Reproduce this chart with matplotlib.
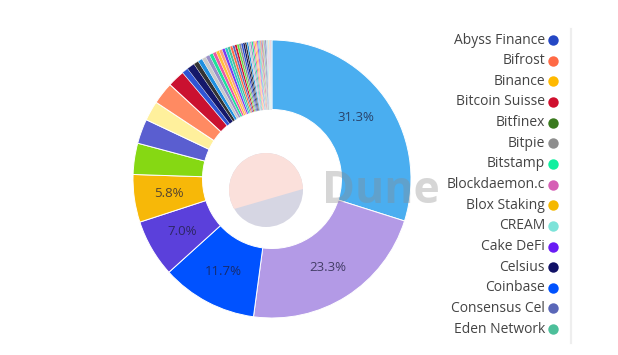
import numpy as np
import matplotlib.pyplot as plt
from matplotlib.patches import Circle, Polygon

# --- datos ---
# porciones del donut (en el orden del reloj desde arriba)
big_shares = [31.3, 23.3, 11.7, 7.0, 5.8]
big_labels = ['31.3%', '23.3%', '11.7%', '7.0%', '5.8%']
big_colors = ['#4aaef0', '#b39ae6', '#0052ff', '#5b40db', '#f7b808']

mid_shares = [3.8, 3.0, 2.4, 2.7, 2.1]
mid_colors = ['#86d813', '#5a5ed0', '#fff09c', '#ff8a62', '#ca1130']

tail_shares = [0.75, 0.95, 0.6, 0.55, 0.5, 0.5, 0.45, 0.42, 0.4, 0.38, 0.36, 0.34,
               0.32, 0.3, 0.28, 0.27, 0.26, 0.25, 0.24, 0.23, 0.22, 0.21, 0.2, 0.19,
               0.18, 0.17, 0.16, 0.15, 0.14, 0.13, 0.12, 0.11, 0.1, 0.1, 0.09, 0.09,
               0.08, 0.08, 0.07, 0.07, 0.06, 0.06, 0.05, 0.05, 0.05, 0.04, 0.04, 0.04,
               0.03, 0.03, 0.03, 0.03, 0.02, 0.02, 0.02, 0.02, 0.02, 0.02]
tail_palette = ['#2f55d4', '#15186a', '#333333', '#1e8fe0', '#c9c9c9', '#9a8fc8',
                '#1de39a', '#e85aa8', '#ffc23a', '#ffa07a', '#7b3cf0', '#2cc9c9',
                '#4cbf9a', '#ff6b45', '#5a67b8', '#d0102e', '#66dd44', '#8c8c8c']

legend_names = ['Abyss Finance', 'Bifrost', 'Binance', 'Bitcoin Suisse', 'Bitfinex',
                'Bitpie', 'Bitstamp', 'Blockdaemon.c', 'Blox Staking', 'CREAM',
                'Cake DeFi', 'Celsius', 'Coinbase', 'Consensus Cel', 'Eden Network']
legend_colors = ['#2447c4', '#ff6a45', '#ffb900', '#d0102e', '#3a7a1e',
                 '#8e8e8e', '#10f0a0', '#d65fb5', '#f5b800', '#7de3d9',
                 '#6a1cf5', '#111166', '#0052ff', '#5a67b8', '#4cbf9a']

shares = big_shares + mid_shares + tail_shares
colors = big_colors + mid_colors + [tail_palette[i % len(tail_palette)] for i in range(len(tail_shares))]

plt.rcParams['font.family'] = ['Open Sans', 'DejaVu Sans']

W, H = 618, 355
fig = plt.figure(figsize=(W / 100, H / 100), dpi=100)

# --- donut ---
cx, cy, R = 272, 179, 139
half = 150
ax = fig.add_axes([(cx - half) / W, (H - cy - half) / H, 2 * half / W, 2 * half / H])
lim = half / R

wedges, _ = ax.pie(shares, colors=colors, startangle=90, counterclock=False, radius=1,
                   wedgeprops=dict(width=0.5, edgecolor='white', linewidth=0.7))
# bordes más finos en las porciones pequeñas
for w in wedges[len(big_shares) + len(mid_shares):]:
    w.set_linewidth(0.2)

for w, lab in zip(wedges[:len(big_labels)], big_labels):
    ang = np.deg2rad((w.theta1 + w.theta2) / 2)
    ax.text(0.75 * np.cos(ang), 0.75 * np.sin(ang), lab, ha='center', va='center',
            fontsize=9.5, color='#1e1e3c', alpha=0.75)

# figura pastel del centro (placeholder de Dune)
pc = (-6 / R, -11 / R)
pr = 37 / R
ax.add_patch(Circle(pc, pr, facecolor='#d6d6e3', edgecolor='none'))
pink = Circle(pc, pr, facecolor='#fbe0db', edgecolor='none')
ax.add_patch(pink)
# mitad superior cortada por una cuerda inclinada
cut = Polygon([(pc[0] - 1, pc[1] - 0.07 - 0.29), (pc[0] + 1, pc[1] - 0.07 + 0.29),
               (pc[0] + 1, pc[1] + 1), (pc[0] - 1, pc[1] + 1)], transform=ax.transData)
pink.set_clip_path(cut)

ax.set_xlim(-lim, lim)
ax.set_ylim(-lim, lim)
ax.axis('off')

# --- capa de anotaciones en píxeles ---
ov = fig.add_axes([0, 0, 1, 1])
ov.set_xlim(0, W)
ov.set_ylim(H, 0)
ov.axis('off')
ov.patch.set_alpha(0)

ov.text(381, 203, 'Dune', ha='center', va='baseline', fontsize=32, fontweight='bold',
        color='#8a8a8a', alpha=0.35)

for i, (name, col) in enumerate(zip(legend_names, legend_colors)):
    y = 40 + i * 20.65
    ov.text(545, y, name, ha='right', va='center', fontsize=10, color='#444444')
    ov.plot(553, y, 'o', markersize=7.5, color=col, markeredgewidth=0)

ov.plot([571, 571], [29, 343], color='#eeeeee', linewidth=1.6)

fig.savefig('out.png', dpi=100)
